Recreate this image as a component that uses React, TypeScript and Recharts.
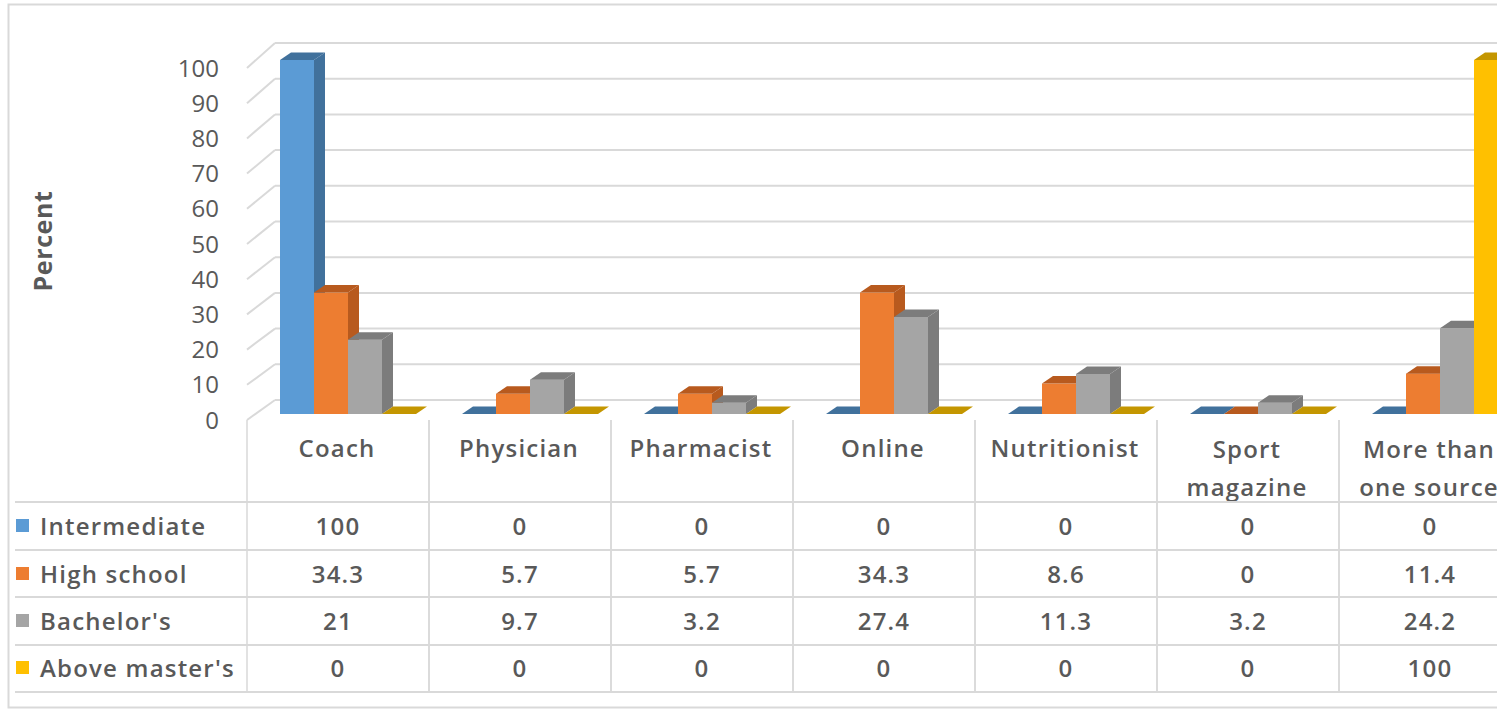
import React from "react"
import { Bar, BarChart, CartesianGrid, XAxis, YAxis } from "recharts"

const categories = [
  "Coach",
  "Physician",
  "Pharmacist",
  "Online",
  "Nutritionist",
  "Sport magazine",
  "More than one source",
]
const headerLines = [
  ["Coach"],
  ["Physician"],
  ["Pharmacist"],
  ["Online"],
  ["Nutritionist"],
  ["Sport", "magazine"],
  ["More than", "one source"],
]
const intermediate = [100, 0, 0, 0, 0, 0, 0]
const highSchool = [34.3, 5.7, 5.7, 34.3, 8.6, 0, 11.4]
const bachelors = [21, 9.7, 3.2, 27.4, 11.3, 3.2, 24.2]
const aboveMasters = [0, 0, 0, 0, 0, 0, 100]
const yTicks = [0, 10, 20, 30, 40, 50, 60, 70, 80, 90, 100]

const series = [
  { key: "intermediate", name: "Intermediate", values: intermediate, front: "#5b9bd5", dark: "#41719c" },
  { key: "highSchool", name: "High school", values: highSchool, front: "#ed7d31", dark: "#b85a1e" },
  { key: "bachelors", name: "Bachelor's", values: bachelors, front: "#a5a5a5", dark: "#7c7c7c" },
  { key: "aboveMasters", name: "Above master's", values: aboveMasters, front: "#ffc000", dark: "#c49600" },
]

const data = categories.map((c, i) => {
  const row: any = { category: c }
  series.forEach((s) => (row[s.key] = s.values[i]))
  return row
})

const TEXT = "#595959"
const GRID = "#d9d9d9"
const FONT = "'Open Sans', sans-serif"

const PLOT_BOTTOM = 420
const BACK_BOTTOM = 400
const BACK_SCALE = 357 / 352
const DEPTH_X = 28
const BAR_BASE = 414
const BAR_SHIFT_X = 9
const BAR_SCALE = 354 / 352
const SIDE_X = 11
const SIDE_Y = 7.5

const rowCenters = [526, 574, 621, 668]
const tableLines = [502, 550, 597, 645, 692]

const tableText = {
  fontSize: 24,
  fontWeight: 600,
  letterSpacing: 1.2,
  fontFamily: FONT,
  fill: TEXT,
}

function GridLine(p: any) {
  const y = p.y1
  const yb = BACK_BOTTOM - (PLOT_BOTTOM - y) * BACK_SCALE
  return (
    <g key={p.key ?? `g-${y}`}>
      <line x1={p.x1} y1={y} x2={p.x1 + DEPTH_X} y2={yb} stroke={GRID} strokeWidth={2} />
      <line x1={p.x1 + DEPTH_X} y1={yb} x2={p.x2 + DEPTH_X + 60} y2={yb} stroke={GRID} strokeWidth={2} />
    </g>
  )
}

function make3D(front: string, dark: string) {
  return (p: any) => {
    const x = p.x + BAR_SHIFT_X
    const w = p.width
    const top = BAR_BASE - (PLOT_BOTTOM - p.y) * BAR_SCALE
    const bottom = BAR_BASE
    const h = bottom - top
    return (
      <g>
        {h > 0.5 && <rect x={x} y={top} width={w} height={h} fill={front} />}
        {h > 0.5 && (
          <polygon
            points={`${x + w},${top} ${x + w + SIDE_X},${top - SIDE_Y} ${x + w + SIDE_X},${bottom - SIDE_Y} ${x + w},${bottom}`}
            fill={dark}
          />
        )}
        <polygon
          points={`${x},${top} ${x + SIDE_X},${top - SIDE_Y} ${x + w + SIDE_X},${top - SIDE_Y} ${x + w},${top}`}
          fill={dark}
        />
      </g>
    )
  }
}

function YTick(p: any) {
  return (
    <text x={219} y={p.y + 8.5} textAnchor="end" fontSize={24} fontFamily={FONT} fill={TEXT}>
      {p.payload.value}
    </text>
  )
}

function TableColumn(p: any) {
  const i = p.payload.index ?? p.index
  const half = p.payload.offset || 91
  const cx = p.x
  const lines = headerLines[i]
  const headerY = lines.length === 1 ? [448] : [449, 487]
  return (
    <g>
      <line x1={cx - half} y1={PLOT_BOTTOM} x2={cx - half} y2={692} stroke={GRID} strokeWidth={1.5} />
      <line x1={cx + half} y1={PLOT_BOTTOM} x2={cx + half} y2={692} stroke={GRID} strokeWidth={1.5} />
      {lines.map((t, k) => (
        <text key={t} x={cx - 1} y={headerY[k] + 8.5} textAnchor="middle" {...tableText}>
          {t}
        </text>
      ))}
      {series.map((s, r) => (
        <text key={s.key} x={cx} y={rowCenters[r] + 8.5} textAnchor="middle" {...tableText}>
          {s.values[i]}
        </text>
      ))}
    </g>
  )
}

function PercentLabel(p: any) {
  const vb = p.viewBox
  const cx = 42
  const cy = vb.y + vb.height / 2 - 3
  return (
    <text
      x={cx}
      y={cy}
      transform={`rotate(-90 ${cx} ${cy})`}
      textAnchor="middle"
      dominantBaseline="central"
      fontSize={25}
      fontWeight={700}
      letterSpacing={0.6}
      fontFamily={FONT}
      fill={TEXT}
    >
      Percent
    </text>
  )
}

export default function App() {
  return (
    <div
      style={{
        position: "fixed",
        left: 0,
        top: 0,
        width: 1497,
        height: 711,
        overflow: "hidden",
        background: "#fff",
      }}
    >
      <BarChart
        width={1560}
        height={711}
        data={data}
        margin={{ top: 68, right: 39, bottom: 20, left: 187 }}
        barGap={0}
        barCategoryGap={24}
      >
        <CartesianGrid vertical={false} horizontal={GridLine} />
        <XAxis
          dataKey="category"
          height={271}
          axisLine={false}
          tickLine={false}
          tickSize={0}
          interval={0}
          tick={TableColumn}
        />
        <YAxis
          width={60}
          domain={[0, 100]}
          ticks={yTicks}
          axisLine={false}
          tickLine={false}
          tick={YTick}
          label={{ content: PercentLabel }}
        />
        {series.map((s) => (
          <Bar
            key={s.key}
            dataKey={s.key}
            name={s.name}
            fill={s.front}
            shape={make3D(s.front, s.dark)}
            isAnimationActive={false}
          />
        ))}
      </BarChart>
      <svg
        width={1497}
        height={711}
        style={{ position: "absolute", left: 0, top: 0, pointerEvents: "none" }}
      >
        <rect x={8.5} y={4.5} width={1600} height={703} fill="none" stroke={GRID} strokeWidth={2} />
        {tableLines.map((y) => (
          <line key={y} x1={15} y1={y} x2={1497} y2={y} stroke={GRID} strokeWidth={2} />
        ))}
        {series.map((s, r) => (
          <g key={s.key}>
            <rect x={16} y={rowCenters[r] - 7} width={13} height={13} fill={s.front} />
            <text x={40} y={rowCenters[r] + 8.5} {...tableText}>
              {s.name}
            </text>
          </g>
        ))}
      </svg>
    </div>
  )
}
